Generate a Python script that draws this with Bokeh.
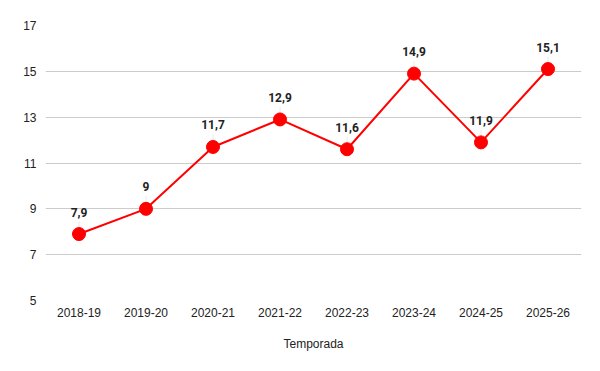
from bokeh.plotting import figure
from bokeh.models import ColumnDataSource, FixedTicker, FactorRange
from bokeh.core.properties import value
from bokeh.embed import file_html
from bokeh.resources import INLINE

seasons = ["2018-19", "2019-20", "2020-21", "2021-22", "2022-23", "2023-24", "2024-25", "2025-26"]
values = [7.9, 9, 11.7, 12.9, 11.6, 14.9, 11.9, 15.1]
y_ticks = [5, 7, 9, 11, 13, 15, 17]
x_title = "Temporada"

labels = [(("%g" % v).replace(".", ",")) for v in values]
stem_top = [v + 0.55 for v in values]

src = ColumnDataSource(dict(x=seasons, y=values, lab=labels, top=stem_top))

p = figure(width=600, height=371, x_range=FactorRange(*seasons, range_padding=0),
           y_range=(5, 17), output_backend="svg", toolbar_location=None,
           min_border_left=45, min_border_right=19, min_border_top=25, min_border_bottom=71)
p.outline_line_color = None
p.background_fill_color = "white"

p.segment(x0="x", y0="y", x1="x", y1="top", source=src, line_color="#e8e8e8", line_width=1)
p.line(x="x", y="y", source=src, line_color="#ff0000", line_width=2)
p.scatter(x="x", y="y", source=src, size=13, fill_color="#ff0000", line_color="#ff0000")
p.text(x="x", y="y", text="lab", source=src, y_offset=-22, text_align="center",
       text_baseline="middle", text_font=value("Roboto"), text_font_style="bold",
       text_font_size="12px", text_color="#222222")

p.xgrid.grid_line_color = None
p.ygrid.grid_line_color = "#cccccc"
p.ygrid.grid_line_width = 1

p.yaxis.ticker = FixedTicker(ticks=y_ticks)
for ax in (p.xaxis, p.yaxis):
    ax.axis_line_color = None
    ax.major_tick_line_color = None
    ax.minor_tick_line_color = None
    ax.major_tick_out = 0
    ax.major_tick_in = 0
    ax.minor_tick_out = 0
    ax.major_label_text_font = "Liberation Sans"
    ax.major_label_text_font_size = "12px"
    ax.major_label_text_color = "#222222"
p.yaxis.major_label_standoff = 9
p.xaxis.major_label_standoff = 7
p.xaxis.axis_label = x_title
p.xaxis.axis_label_text_font = "Liberation Sans"
p.xaxis.axis_label_text_font_size = "12px"
p.xaxis.axis_label_text_font_style = "normal"
p.xaxis.axis_label_text_color = "#222222"
p.xaxis.axis_label_standoff = 17

open("out.html", "w").write(file_html(p, INLINE))
